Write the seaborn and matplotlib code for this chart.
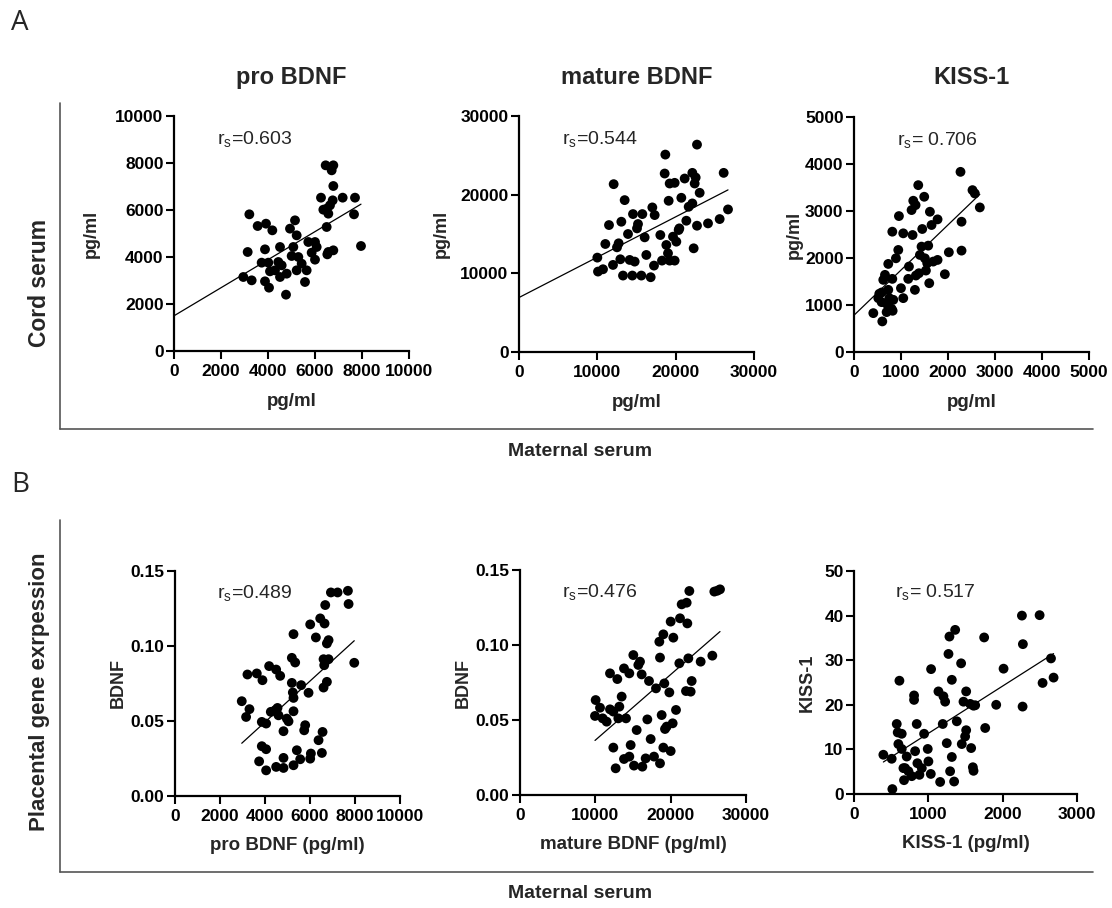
import numpy as np
import pandas as pd
import matplotlib
matplotlib.use("Agg")
import matplotlib.pyplot as plt
from matplotlib.lines import Line2D
import seaborn as sns

# ---------------- data ----------------
a1_x = [3206, 3135, 2950, 3305, 3560, 3915, 4184, 3872, 3730, 4014, 3872, 4043, 4085, 4298, 4511, 4440,
        4582, 4511, 4795, 4766, 4936, 5149, 5220, 5078, 5007, 5291, 5220, 5433, 5645, 5574, 5716, 6000,
        5858, 6071, 6000, 6255, 6454, 6780, 6709, 6780, 6355, 6496, 6638, 6752, 6567, 6496, 6525, 6567,
        6780, 7177, 7702, 7660, 7957]
a1_y = [5816, 4213, 3149, 3007, 5319, 5418, 5135, 4326, 3759, 3759, 2965, 2695, 3390, 3433, 4426, 3787,
        3645, 3149, 3291, 2397, 5206, 5560, 4922, 4426, 4043, 4000, 3433, 3716, 3433, 2936, 4638, 4638,
        4184, 4426, 3887, 6525, 7901, 7901, 7688, 7021, 6014, 6057, 6199, 6411, 5844, 5277, 4113, 4213,
        4284, 6525, 6525, 5816, 4468]

a2_x = [10000, 10085, 10723, 11021, 11489, 12085, 12000, 12511, 12723, 13064, 12936, 13277, 13489, 13915,
        14128, 14553, 14468, 14766, 15064, 15191, 15745, 15617, 16043, 16255, 16809, 17021, 17319, 17234,
        18043, 18255, 18681, 18596, 18809, 19021, 19234, 19234, 19106, 19872, 19660, 19872, 20085, 20383,
        20723, 20468, 21149, 21362, 21660, 22128, 22298, 22553, 22426, 22723, 22128, 22723, 23064, 24128,
        25617, 26128, 26681]
a2_y = [11998, 10224, 10520, 13731, 16138, 21335, 11069, 13308, 13815, 16561, 11787, 9717, 19307, 14998,
        11703, 17533, 9717, 11491, 15716, 16265, 17533, 9717, 14575, 12336, 9506, 18378, 17406, 10984,
        14871, 11618, 25095, 22687, 13604, 12547, 11618, 21419, 19223, 21504, 14660, 11618, 14026, 15505,
        19603, 15716, 22053, 16688, 18462, 22771, 13181, 22180, 21419, 26363, 18885, 16054, 20237, 16350,
        16899, 22771, 18124]

a3_x = [411, 602, 517, 538, 588, 623, 659, 588, 694, 729, 751, 694, 800, 822, 836, 815, 729, 815, 892,
        942, 956, 999, 1048, 1048, 1169, 1154, 1246, 1225, 1261, 1310, 1296, 1317, 1367, 1381, 1437, 1452,
        1494, 1402, 1508, 1530, 1579, 1558, 1601, 1615, 1650, 1686, 1778, 1778, 1933, 2018, 2266, 2288,
        2288, 2521, 2571, 2677]
a3_y = [827, 651, 1146, 1238, 1266, 1535, 1641, 1061, 1025, 1322, 1146, 849, 919, 877, 1110, 1556, 1874,
        2560, 1994, 2171, 2892, 1358, 1146, 2525, 1818, 1556, 2489, 3020, 3218, 3126, 1322, 1627, 3550,
        1676, 2242, 2617, 3303, 2065, 1994, 1733, 2263, 1888, 1464, 2984, 2702, 1924, 2822, 1959, 1655,
        2122, 3833, 2772, 2157, 3444, 3373, 3076]

b1_x = [2967, 3309, 3160, 3220, 3635, 3887, 3858, 4050, 3858, 4050, 3739, 4050, 4184, 4496, 4674, 4258,
        4451, 4555, 4600, 4496, 4822, 4822, 4822, 4970, 5045, 5193, 5341, 5267, 5193, 5237, 5267, 5267,
        5415, 5267, 5564, 5608, 5786, 5742, 5935, 6009, 6039, 6009, 6261, 6380, 6558, 6528, 6454, 6647,
        6602, 6825, 6677, 6825, 6751, 6632, 6751, 6602, 6929, 7226, 7685, 7715, 7967]
b1_y = [0.0632, 0.0579, 0.0527, 0.0810, 0.0817, 0.0772, 0.0494, 0.0483, 0.0332, 0.0312, 0.0231, 0.0171,
        0.0866, 0.0843, 0.0801, 0.0561, 0.0572, 0.0587, 0.0538, 0.0194, 0.0254, 0.0187, 0.0432, 0.0516,
        0.0498, 0.0921, 0.0890, 0.1079, 0.0754, 0.0690, 0.0654, 0.0565, 0.0305, 0.0205, 0.0245, 0.0739,
        0.0472, 0.0438, 0.0688, 0.0249, 0.0283, 0.1144, 0.1057, 0.0372, 0.0427, 0.0287, 0.1184, 0.1150,
        0.0912, 0.0912, 0.1273, 0.1039, 0.1017, 0.0872, 0.0761, 0.0723, 0.1357, 0.1357, 0.1368, 0.1280,
        0.0888]

b2_x = [10044, 9956, 10619, 10973, 11504, 11947, 11947, 12389, 12389, 12699, 12920, 13053, 13186, 13496,
        13805, 14071, 13805, 14513, 14513, 14690, 15044, 15133, 15487, 15708, 15929, 16150, 16239, 16681,
        16903, 17124, 17345, 17788, 18053, 18496, 18584, 18805, 18584, 19027, 19027, 19159, 19248, 19469,
        19823, 20000, 20000, 20265, 20354, 20708, 21150, 21239, 21460, 22124, 22035, 22212, 22345, 22478,
        22655, 22788, 23982, 25531, 25796, 26195, 26549]
b2_y = [0.0633, 0.0527, 0.0582, 0.0511, 0.0489, 0.0811, 0.0571, 0.0556, 0.0316, 0.0178, 0.0773, 0.0511,
        0.0589, 0.0656, 0.0844, 0.0511, 0.0240, 0.0811, 0.0256, 0.0333, 0.0933, 0.0196, 0.0433, 0.0867,
        0.0889, 0.0804, 0.0189, 0.0244, 0.0504, 0.0760, 0.0373, 0.0256, 0.0711, 0.1022, 0.0916, 0.0533,
        0.0211, 0.1071, 0.0316, 0.0744, 0.0440, 0.0456, 0.0684, 0.0293, 0.1156, 0.0478, 0.1049, 0.0567,
        0.0878, 0.1178, 0.1271, 0.1282, 0.0693, 0.1144, 0.0911, 0.1360, 0.0689, 0.0760, 0.0889, 0.0929,
        0.1356, 0.1362, 0.1371]

b3_x = [395, 507, 516, 575, 611, 588, 642, 597, 642, 709, 665, 687, 673, 732, 777, 808, 808, 822, 844,
        853, 880, 912, 943, 992, 1001, 1037, 1033, 1136, 1159, 1203, 1226, 1194, 1248, 1271, 1284, 1361,
        1316, 1293, 1347, 1316, 1383, 1441, 1450, 1473, 1509, 1509, 1495, 1576, 1599, 1608, 1563, 1608,
        1630, 1765, 1751, 1913, 2012, 2259, 2272, 2268, 2497, 2537, 2650, 2685]
b3_y = [8.8, 7.9, 1.1, 15.7, 25.4, 13.8, 13.5, 11.2, 10.1, 8.4, 5.8, 5.8, 3.1, 5.1, 4.0, 22.1, 21.1, 9.6,
        15.7, 6.9, 4.3, 5.8, 13.5, 10.1, 7.3, 28.0, 4.5, 23.0, 2.7, 21.9, 20.7, 15.7, 11.4, 31.4, 35.3,
        36.8, 8.3, 5.1, 2.8, 25.6, 16.3, 29.3, 11.2, 20.7, 23.0, 14.3, 12.9, 10.3, 6.0, 5.2, 20.2, 19.8,
        19.9, 14.8, 35.1, 20.0, 28.1, 40.0, 33.6, 19.6, 40.1, 24.9, 30.4, 26.1]

titles = ["pro BDNF", "mature BDNF", "KISS-1"]
rs_labels = ["0.603", "0.544", " 0.706", "0.489", "0.476", " 0.517"]
x_labels = ["pg/ml", "pg/ml", "pg/ml", "pro BDNF (pg/ml)", "mature BDNF (pg/ml)", "KISS-1 (pg/ml)"]
y_labels = ["pg/ml", "pg/ml", "pg/ml", "BDNF", "BDNF", "KISS-1"]
x_ticks = [[0, 2000, 4000, 6000, 8000, 10000], [0, 10000, 20000, 30000], [0, 1000, 2000, 3000, 4000, 5000],
           [0, 2000, 4000, 6000, 8000, 10000], [0, 10000, 20000, 30000], [0, 1000, 2000, 3000]]
y_ticks = [[0, 2000, 4000, 6000, 8000, 10000], [0, 10000, 20000, 30000], [0, 1000, 2000, 3000, 4000, 5000],
           [0.00, 0.05, 0.10, 0.15], [0.00, 0.05, 0.10, 0.15], [0, 10, 20, 30, 40, 50]]
y_fmt = ["{:.0f}", "{:.0f}", "{:.0f}", "{:.2f}", "{:.2f}", "{:.0f}"]

# ---------------- style ----------------
sns.set_style("ticks")
plt.rcParams['font.family'] = ['Liberation Sans', 'DejaVu Sans']
plt.rcParams['mathtext.fontset'] = 'custom'
plt.rcParams['mathtext.rm'] = 'Liberation Sans'

W, H = 1112, 908
fig = plt.figure(figsize=(W / 100, H / 100), dpi=100)

# axes boxes in pixels: left, top, right, bottom
boxes = [(174, 116, 409, 351), (519, 116, 754, 352), (854, 117, 1089, 352),
         (175, 571, 400, 796), (520, 570, 746, 795), (854, 571, 1077, 794)]
# right edge (px) of the y-label box, and top (px below axis) of x-label box
ylab_right = [100, 450, 803, 127, 472, 816]
xlab_top = [42, 42, 42, 41, 41, 41]

datasets = [(a1_x, a1_y), (a2_x, a2_y), (a3_x, a3_y), (b1_x, b1_y), (b2_x, b2_y), (b3_x, b3_y)]

for i, ((xs, ys), (l, t, r, b)) in enumerate(zip(datasets, boxes)):
    w, h = r - l, b - t
    ax = fig.add_axes([l / W, 1 - b / H, w / W, h / H])
    df = pd.DataFrame({"x": xs, "y": ys})
    sns.scatterplot(data=df, x="x", y="y", ax=ax, color="black", s=50, edgecolor="none",
                    linewidth=0, clip_on=False, zorder=3)
    slope, icpt = np.polyfit(np.array(xs, float), np.array(ys, float), 1)
    x0 = 0 if i < 3 else min(xs)
    xl = np.array([x0, max(xs)])
    ax.plot(xl, icpt + slope * xl, color="black", lw=0.9, zorder=2)

    xt, yt = x_ticks[i], y_ticks[i]
    ax.set_xlim(xt[0], xt[-1])
    ax.set_ylim(yt[0], yt[-1])
    ax.set_xticks(xt)
    ax.set_yticks(yt)
    ax.set_xticklabels([str(v) for v in xt], fontsize=12.5, fontweight="bold")
    ax.set_yticklabels([y_fmt[i].format(v) for v in yt], fontsize=12.5, fontweight="bold")
    ax.set_xlabel(x_labels[i], fontsize=13.5, fontweight="bold")
    ax.set_ylabel(y_labels[i], fontsize=13, fontweight="bold")
    ax.yaxis.set_label_coords((ylab_right[i] - l) / w, 0.5)
    ax.xaxis.set_label_coords(0.5, -xlab_top[i] / h)
    for sp in ["top", "right"]:
        ax.spines[sp].set_visible(False)
    for sp in ["left", "bottom"]:
        ax.spines[sp].set_linewidth(1.6)
        ax.spines[sp].set_color("black")
    ax.tick_params(axis="both", direction="out", length=6, width=1.5, colors="black")
    ax.tick_params(axis="x", pad=3.5)
    ax.tick_params(axis="y", pad=1.5)
    ax.text(0.185, 0.90, r"r$_\mathrm{s}$=" + rs_labels[i], transform=ax.transAxes,
            fontsize=14, ha="left", va="center")
    if i < 3:
        fig.text((l + w / 2) / W, 1 - 84 / H, titles[i], fontsize=17, fontweight="bold",
                 ha="center", va="baseline")

# ---------------- group frames and labels ----------------
def px(x, y):
    return x / W, 1 - y / H

frame_col = "#555555"
for (top, bot) in [(103, 429), (520, 872)]:
    fig.add_artist(Line2D([60 / W, 60 / W], [1 - top / H, 1 - bot / H], color=frame_col, lw=1.2))
    fig.add_artist(Line2D([60 / W, 1093 / W], [1 - bot / H, 1 - bot / H], color=frame_col, lw=1.2))

fig.text(*px(40, 283), "Cord serum", rotation=90, fontsize=16.5, fontweight="bold", ha="center", va="center")
fig.text(*px(40, 692), "Placental gene exrpession", rotation=90, fontsize=16, fontweight="bold",
         ha="center", va="center")
fig.text(*px(580, 452), "Maternal serum", fontsize=14, fontweight="bold", ha="center", va="center")
fig.text(*px(580, 893), "Maternal serum", fontsize=14, fontweight="bold", ha="center", va="center")
fig.text(*px(11, 23), "A", fontsize=20, ha="left", va="center", family=["Open Sans", "DejaVu Sans"])
fig.text(*px(11, 485), "B", fontsize=20, ha="left", va="center", family=["Open Sans", "DejaVu Sans"])

fig.savefig("out.png", dpi=100)
